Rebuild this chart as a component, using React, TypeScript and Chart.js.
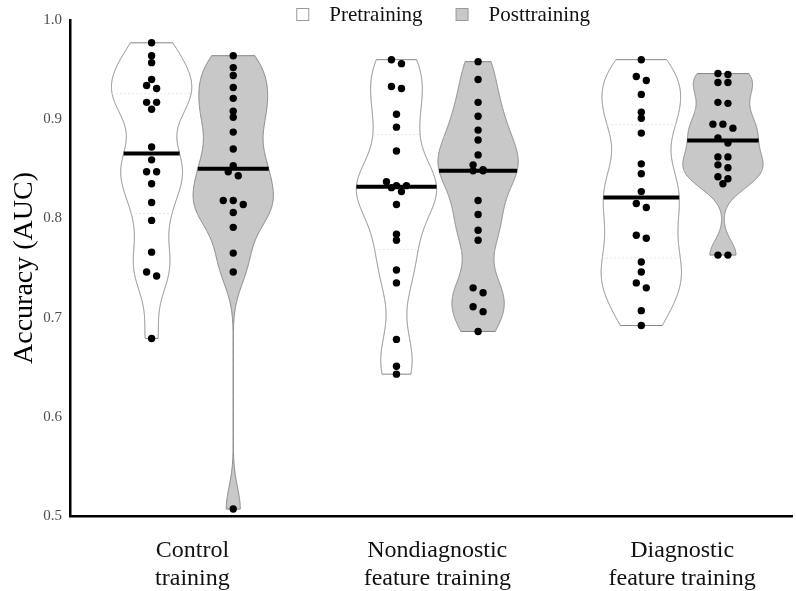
import React, { useEffect, useRef } from 'react';
import { Chart, registerables } from 'chart.js';

Chart.register(...registerables);

// ---------- data ----------
const categories: string[][] = [
  ['Control', 'training'],
  ['Nondiagnostic', 'feature training'],
  ['Diagnostic', 'feature training'],
];
const seriesNames = ['Pretraining', 'Posttraining'];
const yTickValues = [0.5, 0.6, 0.7, 0.8, 0.9, 1.0];

const controlPre = [0.977, 0.964, 0.957, 0.940, 0.934, 0.931, 0.917, 0.917, 0.910, 0.872, 0.859, 0.847, 0.847, 0.835, 0.816, 0.798, 0.766, 0.746, 0.742, 0.679];
const controlPost = [0.964, 0.952, 0.944, 0.932, 0.921, 0.908, 0.902, 0.887, 0.870, 0.853, 0.847, 0.843, 0.818, 0.818, 0.814, 0.806, 0.791, 0.765, 0.746, 0.507];
const nondiagPre = [0.960, 0.956, 0.933, 0.931, 0.905, 0.892, 0.868, 0.837, 0.833, 0.833, 0.831, 0.827, 0.814, 0.784, 0.778, 0.748, 0.735, 0.678, 0.651, 0.643];
const nondiagPost = [0.958, 0.940, 0.917, 0.903, 0.889, 0.879, 0.864, 0.854, 0.849, 0.848, 0.848, 0.818, 0.804, 0.788, 0.778, 0.730, 0.725, 0.711, 0.706, 0.686];
const diagPre = [0.960, 0.943, 0.939, 0.925, 0.907, 0.901, 0.886, 0.855, 0.845, 0.827, 0.815, 0.811, 0.783, 0.780, 0.756, 0.746, 0.735, 0.730, 0.707, 0.692];
const diagPost = [0.946, 0.945, 0.937, 0.937, 0.917, 0.916, 0.895, 0.895, 0.891, 0.881, 0.876, 0.862, 0.862, 0.854, 0.851, 0.842, 0.840, 0.835, 0.763, 0.763];

const groupValues = [
  [controlPre, controlPost],
  [nondiagPre, nondiagPost],
  [diagPre, diagPost],
];

// ---------- styling / layout constants ----------
const FONT = "'Liberation Serif', 'Times New Roman', Times, serif";
const DODGE = 0.1667;        // x-units between group centre and violin centre
const VIOLIN_HALF = 0.164;   // x-units, half width of widest part
const BW_ADJUST = 0.6;
const DOT_RADIUS = 3.7;
const DOT_SPACING = 10;      // px between dots side by side
const BIN_PX = 5.5;          // px vertical tolerance to put dots side by side
const FILLS = ['#ffffff', '#c8c8c8'];
const OUTLINE = '#858585';

// ---------- stats helpers ----------
function quantile7(sorted: number[], p: number) {
  const h = (sorted.length - 1) * p;
  const lo = Math.floor(h);
  const hi = Math.ceil(h);
  return sorted[lo] + (h - lo) * (sorted[hi] - sorted[lo]);
}
function bwNrd0(vals: number[]) {
  const n = vals.length;
  const mean = vals.reduce((a, b) => a + b, 0) / n;
  const sd = Math.sqrt(vals.reduce((a, b) => a + (b - mean) * (b - mean), 0) / (n - 1));
  const s = [...vals].sort((a, b) => a - b);
  const iqr = quantile7(s, 0.75) - quantile7(s, 0.25);
  const lo = Math.min(sd, iqr / 1.34);
  return 0.9 * lo * Math.pow(n, -0.2);
}
function median(vals: number[]) {
  const s = [...vals].sort((a, b) => a - b);
  return quantile7(s, 0.5);
}
type Violin = { center: number; series: number; pts: { v: number; d: number }[]; med: number; q25: number; q75: number };
function buildViolin(vals: number[], center: number, series: number): Violin {
  const h = bwNrd0(vals) * BW_ADJUST;
  const mn = Math.min(...vals);
  const mx = Math.max(...vals);
  const N = 512;
  const pts: { v: number; d: number }[] = [];
  let maxD = 0;
  for (let i = 0; i < N; i++) {
    const v = mn + ((mx - mn) * i) / (N - 1);
    let d = 0;
    for (const x of vals) {
      const z = (v - x) / h;
      d += Math.exp(-0.5 * z * z);
    }
    pts.push({ v, d });
    if (d > maxD) maxD = d;
  }
  pts.forEach((p) => (p.d = p.d / maxD));
  const cdf: number[] = [0];
  for (let i = 1; i < N; i++) cdf.push(cdf[i - 1] + (pts[i].d + pts[i - 1].d) / 2);
  const total = cdf[N - 1];
  const q = (p: number) => {
    const t = p * total;
    for (let i = 1; i < N; i++) {
      if (cdf[i] >= t) {
        const f = (t - cdf[i - 1]) / (cdf[i] - cdf[i - 1] || 1);
        return pts[i - 1].v + f * (pts[i].v - pts[i - 1].v);
      }
    }
    return mx;
  };
  return { center, series, pts, med: median(vals), q25: q(0.25), q75: q(0.75) };
}
function widthAt(vl: Violin, v: number) {
  const p = vl.pts;
  if (v <= p[0].v) return p[0].d;
  for (let i = 1; i < p.length; i++) {
    if (p[i].v >= v) {
      const f = (v - p[i - 1].v) / (p[i].v - p[i - 1].v || 1);
      return p[i - 1].d + f * (p[i].d - p[i - 1].d);
    }
  }
  return p[p.length - 1].d;
}

const violins: Violin[] = [];
groupValues.forEach((pair, g) =>
  pair.forEach((vals, s) => violins.push(buildViolin(vals, g + (s === 0 ? -DODGE : DODGE), s)))
);

// ---------- plugins ----------
const violinPlugin = {
  id: 'violins',
  beforeDatasetsDraw(chart: any) {
    const { ctx, scales } = chart;
    const xs = scales.x;
    const ys = scales.y;
    ctx.save();
    violins.forEach((vl) => {
      const cpx = xs.getPixelForValue(vl.center);
      const half = xs.getPixelForValue(vl.center + VIOLIN_HALF) - cpx;
      ctx.beginPath();
      vl.pts.forEach((p, i) => {
        const px = cpx + p.d * half;
        const py = ys.getPixelForValue(p.v);
        if (i === 0) ctx.moveTo(px, py);
        else ctx.lineTo(px, py);
      });
      for (let i = vl.pts.length - 1; i >= 0; i--) {
        const p = vl.pts[i];
        ctx.lineTo(cpx - p.d * half, ys.getPixelForValue(p.v));
      }
      ctx.closePath();
      ctx.fillStyle = FILLS[vl.series];
      ctx.fill();
      ctx.lineWidth = 1;
      ctx.strokeStyle = OUTLINE;
      ctx.stroke();

      // faint quartile lines
      ctx.setLineDash([2, 2]);
      ctx.lineWidth = 1;
      ctx.strokeStyle = vl.series === 0 ? '#e6e6e6' : '#cbcbcb';
      [vl.q25, vl.q75].forEach((qv) => {
        const w = widthAt(vl, qv) * half;
        const py = ys.getPixelForValue(qv);
        ctx.beginPath();
        ctx.moveTo(cpx - w, py);
        ctx.lineTo(cpx + w, py);
        ctx.stroke();
      });
      ctx.setLineDash([]);

      // median line
      const wm = widthAt(vl, vl.med) * half;
      const pm = ys.getPixelForValue(vl.med);
      ctx.beginPath();
      ctx.moveTo(cpx - wm, pm);
      ctx.lineTo(cpx + wm, pm);
      ctx.lineWidth = 4;
      ctx.strokeStyle = '#000';
      ctx.stroke();
    });
    ctx.restore();
  },
};

const swarmPlugin = {
  id: 'swarm',
  afterDatasetsUpdate(chart: any) {
    chart.data.datasets.forEach((_ds: any, i: number) => {
      const meta = chart.getDatasetMeta(i);
      const els = meta.data.slice().sort((a: any, b: any) => a.y - b.y);
      let bin: any[] = [];
      const flush = () => {
        const n = bin.length;
        bin.forEach((el, k) => {
          el.x = el.x + (k - (n - 1) / 2) * DOT_SPACING;
        });
        bin = [];
      };
      els.forEach((el: any) => {
        if (bin.length && el.y - bin[0].y > BIN_PX) flush();
        bin.push(el);
      });
      flush();
    });
  },
};

const legendPlugin = {
  id: 'customLegend',
  afterDraw(chart: any) {
    const { ctx } = chart;
    ctx.save();
    ctx.font = `21px ${FONT}`;
    ctx.textBaseline = 'middle';
    ctx.textAlign = 'left';
    const box = 12;
    const gapBoxText = 21;
    const gapItems = 33;
    const widths = seriesNames.map((n) => ctx.measureText(n).width);
    const total = seriesNames.reduce((acc, _n, i) => acc + box + gapBoxText + widths[i], 0) + gapItems;
    const ca = chart.chartArea;
    let x = (ca.left + ca.right) / 2 + 12 - total / 2;
    const yMid = 14;
    seriesNames.forEach((name, i) => {
      ctx.fillStyle = FILLS[i];
      ctx.fillRect(x + 0.5, yMid - box / 2 + 0.5, box, box);
      ctx.strokeStyle = '#9a9a9a';
      ctx.lineWidth = 1;
      ctx.strokeRect(x + 0.5, yMid - box / 2 + 0.5, box, box);
      ctx.fillStyle = '#111';
      ctx.fillText(name, x + box + gapBoxText, yMid + 1);
      x += box + gapBoxText + widths[i] + gapItems;
    });
    ctx.restore();
  },
};

// ---------- component ----------
export default function App() {
  const canvasRef = useRef<HTMLCanvasElement | null>(null);

  useEffect(() => {
    if (!canvasRef.current) return;
    const datasets: any[] = [];
    groupValues.forEach((pair, g) =>
      pair.forEach((vals, s) => {
        datasets.push({
          label: `${categories[g].join(' ')} – ${seriesNames[s]}`,
          data: vals.map((v) => ({ x: g + (s === 0 ? -DODGE : DODGE), y: v })),
          backgroundColor: '#000',
          borderColor: '#000',
          borderWidth: 0,
          pointRadius: DOT_RADIUS,
          pointHoverRadius: DOT_RADIUS,
        });
      })
    );

    const chart = new Chart(canvasRef.current, {
      type: 'scatter',
      data: { datasets },
      options: {
        responsive: false,
        animation: false,
        devicePixelRatio: 1,
        events: [],
        layout: { padding: { top: 20, right: 0, bottom: 0, left: 0 } },
        plugins: {
          legend: { display: false },
          tooltip: { enabled: false },
        },
        scales: {
          x: {
            type: 'linear',
            min: -0.5,
            max: 2.45,
            afterBuildTicks: (s: any) => {
              s.ticks = categories.map((_c, i) => ({ value: i }));
            },
            afterFit: (s: any) => {
              s.height = 75;
            },
            ticks: {
              callback: (v: any) => categories[v as number],
              font: { family: FONT, size: 24, lineHeight: 1.17 },
              color: '#111',
              padding: 21,
              maxRotation: 0,
              autoSkip: false,
            },
            grid: { display: false, drawTicks: false },
            border: { display: true, color: '#000', width: 2.5 },
          },
          y: {
            type: 'linear',
            min: 0.5,
            max: 1.0,
            afterBuildTicks: (s: any) => {
              s.ticks = yTickValues.map((v) => ({ value: v }));
            },
            afterFit: (s: any) => {
              s.width = 70;
            },
            ticks: {
              callback: (v: any) => Number(v).toFixed(1),
              font: { family: FONT, size: 15 },
              color: '#4d4d4d',
              padding: 8,
            },
            grid: { display: false, drawTicks: false },
            border: { display: true, color: '#000', width: 2.5 },
            title: {
              display: true,
              text: 'Accuracy (AUC)',
              font: { family: FONT, size: 28 },
              color: '#000',
              padding: { top: 8, bottom: 0 },
            },
          },
        },
      },
      plugins: [violinPlugin, swarmPlugin, legendPlugin],
    } as any);

    return () => chart.destroy();
  }, []);

  return (
    <div style={{ position: 'absolute', left: 0, top: 0, width: 796, height: 591, background: '#fff' }}>
      <canvas ref={canvasRef} width={796} height={591} style={{ display: 'block', width: 796, height: 591 }} />
    </div>
  );
}
